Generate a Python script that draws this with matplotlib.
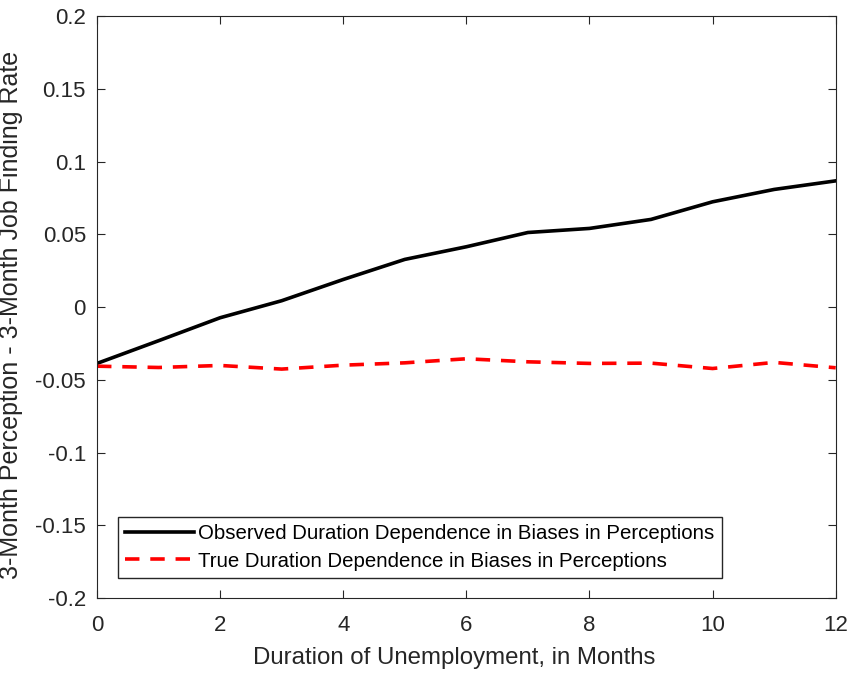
import matplotlib.pyplot as plt
import numpy as np

plt.rcParams['font.family'] = ['Liberation Sans', 'DejaVu Sans']

# Duration dependence of perception biases by month of unemployment
months = np.arange(0, 13)
observed = [-0.0387, -0.0231, -0.0073, 0.0044, 0.019, 0.0328, 0.0415,
            0.0513, 0.0541, 0.0603, 0.0724, 0.0809, 0.0868]
true_dep = [-0.0406, -0.0415, -0.0401, -0.0426, -0.0399, -0.0383, -0.0355,
            -0.0376, -0.0387, -0.0385, -0.0422, -0.0380, -0.0417]

fig = plt.figure(figsize=(8.51, 6.75), dpi=100)
ax = fig.add_axes([0.114, 0.114, 0.868, 0.862])

ax.plot(months, observed, color='black', linewidth=2.6,
        label='Observed Duration Dependence in Biases in Perceptions')
ax.plot(months, true_dep, color='red', linewidth=2.6, linestyle=(0, (4, 3)),
        label='True Duration Dependence in Biases in Perceptions')

ax.set_xlim(0, 12)
ax.set_ylim(-0.2, 0.2)
ax.set_xticks([0, 2, 4, 6, 8, 10, 12])
ax.set_yticks(np.arange(-0.2, 0.201, 0.05))
ax.set_yticklabels(['-0.2', '-0.15', '-0.1', '-0.05', '0', '0.05', '0.1', '0.15', '0.2'])

for s in ax.spines.values():
    s.set_color('#262626')
    s.set_linewidth(0.8)
ax.tick_params(direction='in', length=6, width=0.8, color='#262626',
               top=True, right=True, labelsize=16, labelcolor='#262626')
ax.tick_params(axis='x', pad=12)
ax.tick_params(axis='y', pad=8)

ax.set_xlabel('Duration of Unemployment, in Months', fontsize=17.3,
              color='#262626')
ax.xaxis.set_label_coords(0.484, -0.084)
ax.set_ylabel('3-Month Perception - 3-Month Job Finding Rate', fontsize=18,
              color='#262626')
ax.yaxis.set_label_coords(-0.1, 0.486)

ax.legend(loc='lower left', bbox_to_anchor=(0.028, 0.035), fontsize=14.7,
          frameon=True, fancybox=False, edgecolor='#262626', handlelength=3.4,
          handletextpad=0.2, borderpad=0.35, labelspacing=0.4,
          borderaxespad=0, framealpha=1)

fig.savefig('out.png', dpi=100)
